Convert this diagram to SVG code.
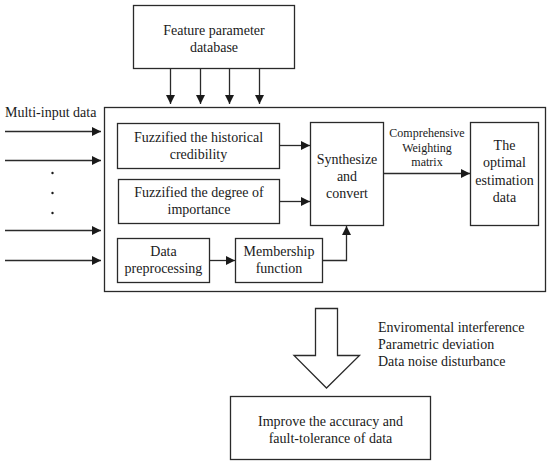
<svg xmlns="http://www.w3.org/2000/svg" width="550" height="465" viewBox="0 0 550 465" font-family="Liberation Serif, Times New Roman, serif" font-size="14">
<style>
.box{fill:#fff;stroke:#2a2a2a;stroke-width:1.3}
.ln{fill:none;stroke:#2a2a2a;stroke-width:1.3}
.t{fill:#1a1a1a}
.c{text-anchor:middle}
</style>
<defs>
<marker id="ah" markerUnits="userSpaceOnUse" markerWidth="10" markerHeight="10" refX="9" refY="5" orient="auto">
<path d="M0,0.5 L9,5 L0,9.5 Z" fill="#1a1a1a"/>
</marker>
</defs>
<rect width="550" height="465" fill="#fff"/>
<g id="feature-db">
<rect class="box" x="133.5" y="5.5" width="161" height="63"/>
<text class="t c" x="214" y="35">Feature parameter</text>
<text class="t c" x="214" y="52">database</text>
</g>
<g id="main-frame">
<rect class="box" x="104.5" y="107.5" width="441" height="184"/>
</g>
<g id="multi-input-label">
<text class="t" x="5" y="117">Multi-input data</text>
<circle cx="52.5" cy="173" r="1.2" fill="#1a1a1a"/>
<circle cx="52.5" cy="193" r="1.2" fill="#1a1a1a"/>
<circle cx="52.5" cy="213" r="1.2" fill="#1a1a1a"/>
</g>
<g id="fuzz-hist">
<rect class="box" x="117.5" y="123.5" width="162" height="45"/>
<text class="t c" x="198.5" y="141.5">Fuzzified the historical</text>
<text class="t c" x="198.5" y="159">credibility</text>
</g>
<g id="fuzz-imp">
<rect class="box" x="118.5" y="179.5" width="161" height="44"/>
<text class="t c" x="199" y="197">Fuzzified the degree of</text>
<text class="t c" x="199" y="214">importance</text>
</g>
<g id="data-pre">
<rect class="box" x="117.5" y="238.5" width="92" height="44"/>
<text class="t c" x="163.5" y="256">Data</text>
<text class="t c" x="163.5" y="273">preprocessing</text>
</g>
<g id="membership">
<rect class="box" x="235.5" y="238.5" width="87" height="44"/>
<text class="t c" x="279" y="256">Membership</text>
<text class="t c" x="279" y="273">function</text>
</g>
<g id="synth">
<rect class="box" x="310.5" y="122.5" width="73" height="103"/>
<text class="t c" x="347" y="163.5">Synthesize</text>
<text class="t c" x="347" y="180.5">and</text>
<text class="t c" x="347" y="198">convert</text>
</g>
<g id="optimal">
<rect class="box" x="470.5" y="122.5" width="68" height="103"/>
<text class="t c" x="504.5" y="150">The</text>
<text class="t c" x="504.5" y="167">optimal</text>
<text class="t c" x="504.5" y="185">estimation</text>
<text class="t c" x="504.5" y="202">data</text>
</g>
<g id="improve">
<rect class="box" x="230.5" y="396.5" width="200" height="63"/>
<text class="t c" x="330.5" y="426">Improve the accuracy and</text>
<text class="t c" x="330.5" y="443">fault-tolerance of data</text>
</g>
<g id="disturbances">
<text class="t" x="378" y="332">Enviromental interference</text>
<text class="t" x="378" y="349">Parametric deviation</text>
<text class="t" x="378" y="366">Data noise disturbance</text>
</g>
<g id="connectors">
<line class="ln" x1="170.5" y1="68" x2="170.5" y2="104" marker-end="url(#ah)"/>
<line class="ln" x1="200.5" y1="68" x2="200.5" y2="104" marker-end="url(#ah)"/>
<line class="ln" x1="229.5" y1="68" x2="229.5" y2="104" marker-end="url(#ah)"/>
<line class="ln" x1="259.5" y1="68" x2="259.5" y2="104" marker-end="url(#ah)"/>
<line class="ln" x1="5" y1="131.5" x2="101" y2="131.5" marker-end="url(#ah)"/>
<line class="ln" x1="5" y1="160.5" x2="101" y2="160.5" marker-end="url(#ah)"/>
<line class="ln" x1="5" y1="230.5" x2="101" y2="230.5" marker-end="url(#ah)"/>
<line class="ln" x1="5" y1="260.5" x2="101" y2="260.5" marker-end="url(#ah)"/>
<line class="ln" x1="279.5" y1="145.5" x2="310" y2="145.5" marker-end="url(#ah)"/>
<line class="ln" x1="279.5" y1="201.5" x2="310" y2="201.5" marker-end="url(#ah)"/>
<line class="ln" x1="209.5" y1="260.5" x2="235" y2="260.5" marker-end="url(#ah)"/>
<polyline class="ln" points="322.5,260.5 346.5,260.5 346.5,226" marker-end="url(#ah)"/>
<line class="ln" x1="383.5" y1="173.5" x2="470" y2="173.5" marker-end="url(#ah)"/>
<text class="t c" font-size="12" x="427" y="136.5">Comprehensive</text>
<text class="t c" font-size="12" x="427" y="151.5">Weighting</text>
<text class="t c" font-size="12" x="427" y="166">matrix</text>
<polygon class="box" points="315.5,308.5 337.5,308.5 337.5,355.5 359.5,355.5 326.5,388 294,355.5 315.5,355.5"/>
</g>
</svg>
